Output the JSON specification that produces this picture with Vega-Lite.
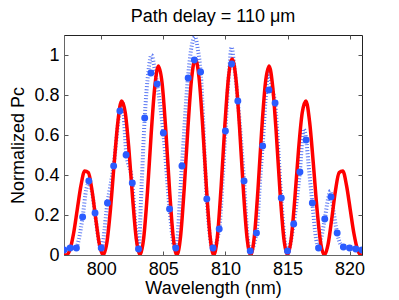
{
  "$schema": "https://vega.github.io/schema/vega-lite/v6.json",
  "width": 298,
  "height": 220,
  "autosize": "none",
  "padding": {"left": 64, "top": 35, "right": 37, "bottom": 45},
  "config": {
    "font": "Liberation Sans",
    "view": {"stroke": "#222", "strokeWidth": 1},
    "axis": {"grid": false, "labelFont": "Liberation Sans", "titleFont": "Liberation Sans", "labelFontSize": 18, "titleFontSize": 18, "titleFontWeight": "normal", "labelColor": "#000", "titleColor": "#000", "domainColor": "#666", "tickColor": "#555", "tickSize": -4, "labelPadding": 9}
  },
  "title": {"text": "Path delay = 110 μm", "fontSize": 18, "fontWeight": "normal", "font": "Liberation Sans", "offset": 9, "color": "#000"},
  "datasets": {
    "theory": [
      {"wl": 797.0, "p": 0}, {"wl": 797.18, "p": 0}, {"wl": 797.477, "p": 0.027}, {"wl": 797.774, "p": 0.109}, {"wl": 798.071, "p": 0.229}, {"wl": 798.368, "p": 0.348}, {"wl": 798.665, "p": 0.42}, {"wl": 798.962, "p": 0.412}, {"wl": 799.259, "p": 0.321}, {"wl": 799.556, "p": 0.181}, {"wl": 799.853, "p": 0.053},
      {"wl": 800.15, "p": 0}, {"wl": 800.447, "p": 0.06}, {"wl": 800.744, "p": 0.23}, {"wl": 801.041, "p": 0.458}, {"wl": 801.338, "p": 0.665}, {"wl": 801.635, "p": 0.77}, {"wl": 801.932, "p": 0.712}, {"wl": 802.229, "p": 0.527}, {"wl": 802.526, "p": 0.284}, {"wl": 802.823, "p": 0.08},
      {"wl": 803.12, "p": 0}, {"wl": 803.417, "p": 0.084}, {"wl": 803.714, "p": 0.308}, {"wl": 804.011, "p": 0.596}, {"wl": 804.308, "p": 0.839}, {"wl": 804.605, "p": 0.945}, {"wl": 804.902, "p": 0.858}, {"wl": 805.199, "p": 0.623}, {"wl": 805.496, "p": 0.33}, {"wl": 805.793, "p": 0.092},
      {"wl": 806.09, "p": 0}, {"wl": 806.387, "p": 0.092}, {"wl": 806.684, "p": 0.335}, {"wl": 806.981, "p": 0.637}, {"wl": 807.278, "p": 0.883}, {"wl": 807.575, "p": 0.98}, {"wl": 807.872, "p": 0.888}, {"wl": 808.169, "p": 0.644}, {"wl": 808.466, "p": 0.341}, {"wl": 808.763, "p": 0.094},
      {"wl": 809.06, "p": 0}, {"wl": 809.357, "p": 0.094}, {"wl": 809.654, "p": 0.341}, {"wl": 809.951, "p": 0.644}, {"wl": 810.248, "p": 0.888}, {"wl": 810.545, "p": 0.98}, {"wl": 810.842, "p": 0.883}, {"wl": 811.139, "p": 0.637}, {"wl": 811.436, "p": 0.335}, {"wl": 811.733, "p": 0.092},
      {"wl": 812.03, "p": 0}, {"wl": 812.327, "p": 0.092}, {"wl": 812.624, "p": 0.33}, {"wl": 812.921, "p": 0.623}, {"wl": 813.218, "p": 0.858}, {"wl": 813.515, "p": 0.945}, {"wl": 813.812, "p": 0.839}, {"wl": 814.109, "p": 0.596}, {"wl": 814.406, "p": 0.308}, {"wl": 814.703, "p": 0.084},
      {"wl": 815.0, "p": 0}, {"wl": 815.297, "p": 0.08}, {"wl": 815.594, "p": 0.284}, {"wl": 815.891, "p": 0.527}, {"wl": 816.188, "p": 0.712}, {"wl": 816.485, "p": 0.77}, {"wl": 816.782, "p": 0.665}, {"wl": 817.079, "p": 0.458}, {"wl": 817.376, "p": 0.23}, {"wl": 817.673, "p": 0.06},
      {"wl": 817.97, "p": 0}, {"wl": 818.267, "p": 0.053}, {"wl": 818.564, "p": 0.181}, {"wl": 818.861, "p": 0.321}, {"wl": 819.158, "p": 0.412}, {"wl": 819.455, "p": 0.42}, {"wl": 819.752, "p": 0.348}, {"wl": 820.049, "p": 0.229}, {"wl": 820.346, "p": 0.109}, {"wl": 820.643, "p": 0.027},
      {"wl": 820.94, "p": 0}, {"wl": 821.0, "p": 0}
    ],
    "measured": [
      {"wl": 797.0, "p": 0.03}, {"wl": 797.5, "p": 0.035}, {"wl": 798.0, "p": 0.04}, {"wl": 798.2, "p": 0.08}, {"wl": 798.5, "p": 0.19}, {"wl": 798.8, "p": 0.33}, {"wl": 799.0, "p": 0.36}, {"wl": 799.2, "p": 0.33}, {"wl": 799.5, "p": 0.21}, {"wl": 799.8, "p": 0.07}, {"wl": 800.0, "p": 0.03},
      {"wl": 800.5, "p": 0.26}, {"wl": 801.0, "p": 0.45}, {"wl": 801.5, "p": 0.72}, {"wl": 801.7, "p": 0.76}, {"wl": 802.0, "p": 0.52}, {"wl": 802.5, "p": 0.36}, {"wl": 802.8, "p": 0.12}, {"wl": 803.0, "p": 0.03},
      {"wl": 803.25, "p": 0.35}, {"wl": 803.5, "p": 0.685}, {"wl": 803.8, "p": 0.92}, {"wl": 804.05, "p": 1.0}, {"wl": 804.3, "p": 0.93}, {"wl": 804.5, "p": 0.855}, {"wl": 805.0, "p": 0.61}, {"wl": 805.5, "p": 0.23}, {"wl": 805.8, "p": 0.06}, {"wl": 806.0, "p": 0.03},
      {"wl": 806.5, "p": 0.45}, {"wl": 807.0, "p": 0.9}, {"wl": 807.3, "p": 1.05}, {"wl": 807.55, "p": 1.09}, {"wl": 807.8, "p": 1.02}, {"wl": 808.0, "p": 0.92}, {"wl": 808.5, "p": 0.28}, {"wl": 808.8, "p": 0.07}, {"wl": 809.0, "p": 0.03},
      {"wl": 809.5, "p": 0.13}, {"wl": 809.8, "p": 0.4}, {"wl": 810.0, "p": 0.62}, {"wl": 810.3, "p": 0.92}, {"wl": 810.5, "p": 1.04}, {"wl": 810.7, "p": 0.95}, {"wl": 811.0, "p": 0.77}, {"wl": 811.5, "p": 0.37}, {"wl": 811.8, "p": 0.08}, {"wl": 812.0, "p": 0.02},
      {"wl": 812.5, "p": 0.11}, {"wl": 812.8, "p": 0.38}, {"wl": 813.0, "p": 0.55}, {"wl": 813.3, "p": 0.83}, {"wl": 813.5, "p": 0.93}, {"wl": 813.7, "p": 0.85}, {"wl": 814.0, "p": 0.76}, {"wl": 814.5, "p": 0.285}, {"wl": 814.8, "p": 0.06}, {"wl": 815.0, "p": 0.02},
      {"wl": 815.5, "p": 0.155}, {"wl": 816.0, "p": 0.42}, {"wl": 816.3, "p": 0.63}, {"wl": 816.5, "p": 0.58}, {"wl": 816.7, "p": 0.45}, {"wl": 817.0, "p": 0.26}, {"wl": 817.3, "p": 0.08}, {"wl": 817.5, "p": 0.035},
      {"wl": 817.7, "p": 0.08}, {"wl": 818.0, "p": 0.18}, {"wl": 818.3, "p": 0.29}, {"wl": 818.45, "p": 0.32}, {"wl": 818.7, "p": 0.22}, {"wl": 819.0, "p": 0.11}, {"wl": 819.3, "p": 0.05}, {"wl": 819.5, "p": 0.04}, {"wl": 820.0, "p": 0.035}, {"wl": 820.5, "p": 0.03}, {"wl": 821.0, "p": 0.025}
    ],
    "points": [
      {"wl": 797.0, "p": 0.025}, {"wl": 797.5, "p": 0.035}, {"wl": 798.0, "p": 0.035}, {"wl": 798.5, "p": 0.19}, {"wl": 799.0, "p": 0.37}, {"wl": 799.5, "p": 0.21}, {"wl": 800.0, "p": 0.035}, {"wl": 800.5, "p": 0.26}, {"wl": 801.0, "p": 0.445}, {"wl": 801.5, "p": 0.72},
      {"wl": 802.0, "p": 0.5}, {"wl": 802.5, "p": 0.36}, {"wl": 803.0, "p": 0.03}, {"wl": 803.5, "p": 0.685}, {"wl": 804.0, "p": 0.91}, {"wl": 804.5, "p": 0.855}, {"wl": 805.0, "p": 0.61}, {"wl": 805.5, "p": 0.23}, {"wl": 806.0, "p": 0.035}, {"wl": 806.5, "p": 0.445},
      {"wl": 807.0, "p": 0.885}, {"wl": 807.5, "p": 0.975}, {"wl": 808.0, "p": 0.915}, {"wl": 808.5, "p": 0.28}, {"wl": 809.0, "p": 0.035}, {"wl": 809.5, "p": 0.13}, {"wl": 810.0, "p": 0.62}, {"wl": 810.5, "p": 0.955}, {"wl": 811.0, "p": 0.77}, {"wl": 811.5, "p": 0.37},
      {"wl": 812.0, "p": 0.02}, {"wl": 812.5, "p": 0.11}, {"wl": 813.0, "p": 0.545}, {"wl": 813.5, "p": 0.825}, {"wl": 814.0, "p": 0.76}, {"wl": 814.5, "p": 0.285}, {"wl": 815.0, "p": 0.02}, {"wl": 815.5, "p": 0.155}, {"wl": 816.0, "p": 0.415}, {"wl": 816.5, "p": 0.575},
      {"wl": 817.0, "p": 0.26}, {"wl": 817.5, "p": 0.035}, {"wl": 818.0, "p": 0.18}, {"wl": 818.5, "p": 0.29}, {"wl": 819.0, "p": 0.11}, {"wl": 819.5, "p": 0.04}, {"wl": 820.0, "p": 0.035}, {"wl": 820.5, "p": 0.03}, {"wl": 821.0, "p": 0.025}
    ]
  },
  "layer": [
    {"data": {"name": "measured"}, "mark": {"type": "line", "interpolate": "monotone", "color": "#3358f0", "strokeWidth": 4, "strokeDash": [1, 2], "opacity": 0.8, "clip": true},
      "encoding": {
        "x": {"field": "wl", "type": "quantitative", "scale": {"domain": [797, 821], "nice": false, "zero": false}, "axis": null},
        "y": {"field": "p", "type": "quantitative", "scale": {"domain": [0, 1.1], "nice": false}, "axis": null}
      }},
    {"data": {"name": "theory"}, "mark": {"type": "line", "interpolate": "monotone", "color": "#ff0000", "strokeWidth": 3.5, "clip": true},
      "encoding": {
        "x": {"field": "wl", "type": "quantitative", "axis": {"orient": "bottom", "title": "Wavelength (nm)", "values": [800, 805, 810, 815, 820], "titlePadding": 1}},
        "y": {"field": "p", "type": "quantitative", "axis": {"orient": "left", "title": "Normalized Pc", "values": [0, 0.2, 0.4, 0.6, 0.8, 1], "format": "~g", "titlePadding": 6}}
      }},
    {"data": {"name": "points"}, "mark": {"type": "point", "filled": true, "size": 48, "color": "#2b5cff", "opacity": 1, "clip": true},
      "encoding": {
        "x": {"field": "wl", "type": "quantitative", "axis": {"orient": "top", "title": null, "labels": false, "values": [800, 805, 810, 815, 820], "domain": false}},
        "y": {"field": "p", "type": "quantitative", "axis": {"orient": "right", "title": null, "labels": false, "values": [0, 0.2, 0.4, 0.6, 0.8, 1], "domain": false}}
      }}
  ]
}
